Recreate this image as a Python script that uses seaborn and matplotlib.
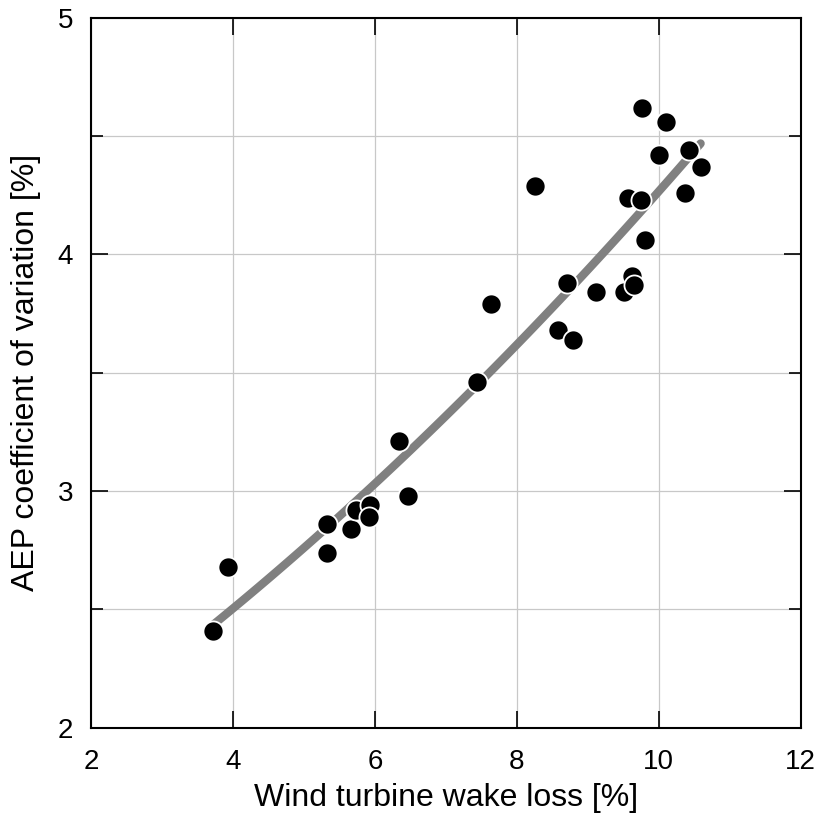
import matplotlib

matplotlib.use("Agg")
import matplotlib.pyplot as plt
from matplotlib.ticker import MultipleLocator
import pandas as pd
import seaborn as sns


WAKE_LOSS = [
    3.72, 3.93, 5.32, 5.32, 5.66, 5.74, 5.93, 5.92, 6.47, 6.34,
    7.44, 7.64, 8.26, 8.58, 8.79, 8.71, 9.11, 9.51, 9.62, 9.65,
    9.80, 9.56, 9.75, 9.76, 10.10, 10.01, 10.43, 10.59, 10.37,
]
AEP_COV = [
    2.41, 2.68, 2.86, 2.74, 2.84, 2.92, 2.94, 2.89, 2.98, 3.21,
    3.46, 3.79, 4.29, 3.68, 3.64, 3.88, 3.84, 3.84, 3.91, 3.87,
    4.06, 4.24, 4.23, 4.62, 4.56, 4.42, 4.44, 4.37, 4.26,
]

df = pd.DataFrame({"wake": WAKE_LOSS, "cov": AEP_COV})

sns.set_theme(style="ticks")
plt.rcParams["font.family"] = ["Liberation Sans", "DejaVu Sans"]
plt.rcParams["text.color"] = "black"
plt.rcParams["axes.labelcolor"] = "black"

fig = plt.figure(figsize=(8.28, 8.21), dpi=100)
ax = fig.add_axes([0.1099, 0.1136, 0.8571, 0.8648])

ax.grid(True, which="major", axis="x", color="#c8c8c8", linewidth=0.9)
ax.grid(True, which="both", axis="y", color="#c8c8c8", linewidth=0.9)
ax.set_axisbelow(True)

# quadratic fit drawn underneath the points
sns.regplot(
    data=df,
    x="wake",
    y="cov",
    order=2,
    ci=None,
    scatter=False,
    truncate=True,
    line_kws={"color": "#808080", "linewidth": 6, "solid_capstyle": "round", "zorder": 2},
    ax=ax,
)
sns.scatterplot(
    data=df,
    x="wake",
    y="cov",
    s=210,
    color="black",
    edgecolor="white",
    linewidth=1.3,
    zorder=3,
    ax=ax,
)

ax.set_xlim(2, 12)
ax.set_ylim(2, 5)
ax.xaxis.set_major_locator(MultipleLocator(2))
ax.yaxis.set_major_locator(MultipleLocator(1))
ax.yaxis.set_minor_locator(MultipleLocator(0.5))

ax.tick_params(which="both", direction="in", top=True, right=True, width=1.2, colors="black")
ax.tick_params(which="major", length=12, labelsize=20, pad=13)
ax.tick_params(which="minor", length=8.5)
ax.tick_params(axis="x", which="major", pad=15)

for spine in ax.spines.values():
    spine.set_visible(True)
    spine.set_linewidth(1.5)
    spine.set_color("black")

ax.set_xlabel("Wind turbine wake loss [%]", fontsize=23, labelpad=6, color="black")
ax.set_ylabel("AEP coefficient of variation [%]", fontsize=23, labelpad=12, color="black")

fig.savefig("out.png", dpi=100)
